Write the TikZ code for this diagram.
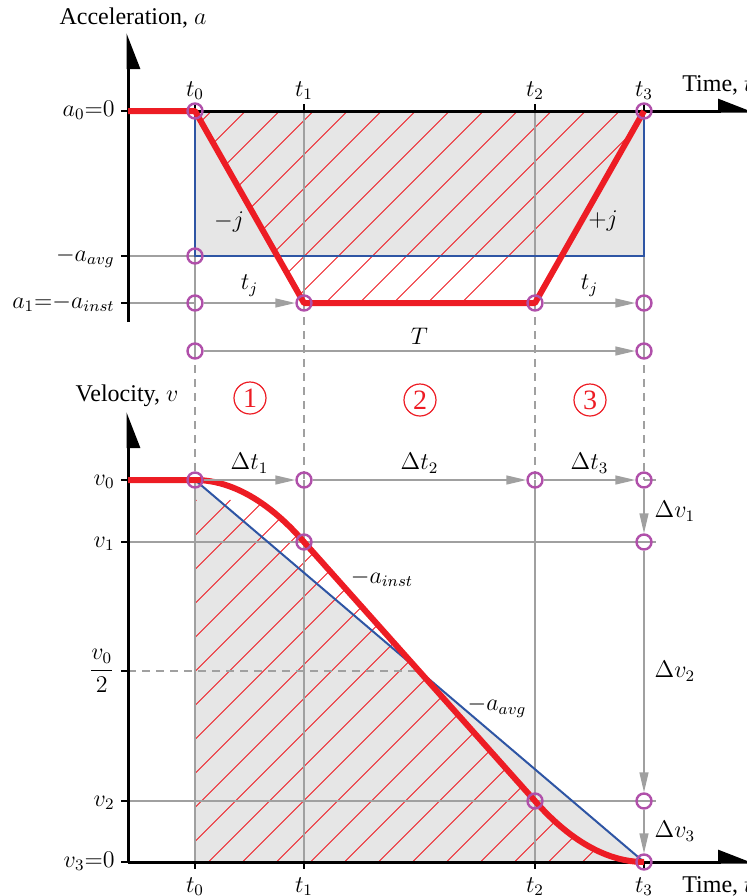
\documentclass[tikz,border=0pt]{standalone}
\usepackage{fontspec}
\setmainfont{Liberation Serif}
\usetikzlibrary{arrows.meta}

\definecolor{curvered}{HTML}{ED1C24}
\definecolor{avgblue}{HTML}{2E55A4}
\definecolor{ringpurple}{HTML}{B050AA}
\definecolor{guidegray}{HTML}{A0A0A0}
\definecolor{areagray}{HTML}{E6E6E6}

\begin{document}
\begin{tikzpicture}[
    x=0.5pt, y=-0.5pt,
    axis/.style={line width=1.5pt, -{Triangle[harpoon, length=16pt, width=12pt]}},
    vaxis/.style={line width=1.5pt, -{Triangle[harpoon, swap, length=16pt, width=12pt]}},
    tick/.style={line width=1.2pt},
    guide/.style={draw=guidegray, line width=0.7pt},
    gap/.style={guide, dash pattern=on 4pt off 3pt},
    dim/.style={guide, -{Triangle[length=10pt, width=4.5pt]}},
    ring/.style={circle, draw=ringpurple, line width=1.2pt, minimum size=7.5pt, inner sep=0pt},
    jerk/.style={draw=curvered, line width=3pt, line join=round},
    hatch/.style={draw=curvered, line width=0.5pt},
    avg/.style={draw=avgblue, line width=1pt},
    lab/.style={font=\fontsize{12}{14}\selectfont, inner sep=1pt},
    phase/.style={circle, draw=curvered, text=curvered, line width=0.6pt, minimum size=16pt, inner sep=0pt, font=\fontsize{14}{16}\selectfont}
]
\useasboundingbox (0,0) rectangle (746,896);

\fill[areagray] (195,111) rectangle (644,256);
\fill[areagray] (195,480) -- (644,862) -- (195,862) -- cycle;

\begin{scope}
  \clip (195,111) -- (304,303) -- (535,303) -- (644,111) -- cycle;
  \foreach \k in {8,...,22}
    \draw[hatch] ({34*\k+16.5-400},400) -- ({34*\k+16.5},0);
\end{scope}
\begin{scope}
  \clip (195,480) parabola (304,542) -- (535,801) parabola[bend at end] (644,862) -- (195,862) -- cycle;
  \foreach \k in {19,...,44}
    \draw[hatch] ({34*\k+16.5-500},500) -- ({34*\k+16.5-900},900);
\end{scope}

\draw[guide] (195,111) -- (195,351);
\draw[gap] (195,351) -- (195,480);
\draw[guide] (195,480) -- (195,862);
\foreach \x in {304,535} {
  \draw[guide] (\x,111) -- (\x,303);
  \draw[gap] (\x,303) -- (\x,480);
  \draw[guide] (\x,480) -- (\x,862);
}
\draw[guide] (644,256) -- (644,351);
\draw[gap] (644,351) -- (644,480);
\draw[guide] (128,256) -- (195,256);
\draw[guide] (128,303) -- (195,303);
\draw[guide] (644,480) -- (656,480);
\draw[guide] (128,542) -- (656,542);
\draw[guide] (128,801) -- (656,801);
\draw[gap] (128,671) -- (419.5,671);

\draw[avg] (195,111) -- (195,256) -- (644,256) -- (644,111);
\draw[avg] (195,480) -- (644,862);

\draw[vaxis] (128,322) -- (128,33);
\draw[axis] (128,111) -- (754,111);
\draw[vaxis] (128,862) -- (128,412);
\draw[axis] (128,862) -- (754,862);
\foreach \x in {195,304,535,644} {
  \draw[tick] (\x,104) -- (\x,111);
  \draw[tick] (\x,862) -- (\x,869);
}
\foreach \y in {111,256,303,480,542,671,801,862}
  \draw[tick] (121,\y) -- (128,\y);

\draw[jerk] (128,111) -- (195,111) -- (304,303) -- (535,303) -- (644,111);
\draw[jerk] (128,480) -- (195,480) parabola (304,542) -- (535,801) parabola[bend at end] (644,862);

\node[ring] (r00) at (195,111) {};
\node[ring] (r30) at (644,111) {};
\node[ring] (r0avg) at (195,256) {};
\node[ring] (r01) at (195,303) {};
\node[ring] (r11) at (304,303) {};
\node[ring] (r21) at (535,303) {};
\node[ring] (r31) at (644,303) {};
\node[ring] (r0T) at (195,351) {};
\node[ring] (r3T) at (644,351) {};
\node[ring] (v00) at (195,480) {};
\node[ring] (v10) at (304,480) {};
\node[ring] (v20) at (535,480) {};
\node[ring] (v30) at (644,480) {};
\node[ring] (v11) at (304,542) {};
\node[ring] (v31) at (644,542) {};
\node[ring] (v22) at (535,801) {};
\node[ring] (v32) at (644,801) {};
\node[ring] (v33) at (644,862) {};

\draw[dim] (r01) -- node[lab, midway, above=2pt] {$t_j$} (r11);
\draw[dim] (r21) -- node[lab, midway, above=2pt] {$t_j$} (r31);
\draw[dim] (r0T) -- node[lab, midway, above=2pt] {$T$} (r3T);
\draw[dim] (v00) -- node[lab, midway, above=2pt] {$\Delta t_1$} (v10);
\draw[dim] (v10) -- node[lab, midway, above=2pt] {$\Delta t_2$} (v20);
\draw[dim] (v20) -- node[lab, midway, above=2pt] {$\Delta t_3$} (v30);
\draw[dim] (v30) -- node[lab, midway, right=4pt] {$\Delta v_1$} (v31);
\draw[dim] (v31) -- node[lab, midway, right=4pt] {$\Delta v_2$} (v32);
\draw[dim] (v32) -- node[lab, midway, right=4pt] {$\Delta v_3$} (v33);

\node[lab] (acc) at (133,18) {Acceleration, $a$};
\node[lab] (vel) at (127,396) {Velocity, $v$};
\node[lab, anchor=base west] (timetop) at (680,91) {Time, $t$};
\node[lab, anchor=base west] (timebot) at (680,892) {Time, $t$};

\node[lab, anchor=base] (tt0) at (195,96) {$t_0$};
\node[lab, anchor=base] (tt1) at (304,96) {$t_1$};
\node[lab, anchor=base] (tt2) at (535,96) {$t_2$};
\node[lab, anchor=base] (tt3) at (644,96) {$t_3$};
\node[lab, anchor=base] (bt0) at (195,892) {$t_0$};
\node[lab, anchor=base] (bt1) at (304,892) {$t_1$};
\node[lab, anchor=base] (bt2) at (535,892) {$t_2$};
\node[lab, anchor=base] (bt3) at (644,892) {$t_3$};

\node[lab, anchor=base east] (la0) at (117,116) {$a_0{=}0$};
\node[lab, anchor=base east] (lavg) at (117,261) {$-a_{avg}$};
\node[lab, anchor=base east] (la1) at (117,308) {$a_1{=}{-}a_{inst}$};
\node[lab, anchor=base east] (lv0) at (117,485) {$v_0$};
\node[lab, anchor=base east] (lv1) at (117,547) {$v_1$};
\node[lab, anchor=east] (lhalf) at (117,671) {$\displaystyle\frac{v_0}{2}$};
\node[lab, anchor=base east] (lv2) at (117,806) {$v_2$};
\node[lab, anchor=base east] (lv3) at (117,867) {$v_3{=}0$};

\node[lab] (jdown) at (229,222) {$-j$};
\node[lab] (jup) at (603,221) {$+j$};
\node[lab] (ainst) at (382,578) {$-a_{inst}$};
\node[lab] (aavg) at (497,707) {$-a_{avg}$};

\node[phase] (ph1) at (250,398) {1};
\node[phase] (ph2) at (420,400) {2};
\node[phase] (ph3) at (590,400) {3};
\end{tikzpicture}
\end{document}
